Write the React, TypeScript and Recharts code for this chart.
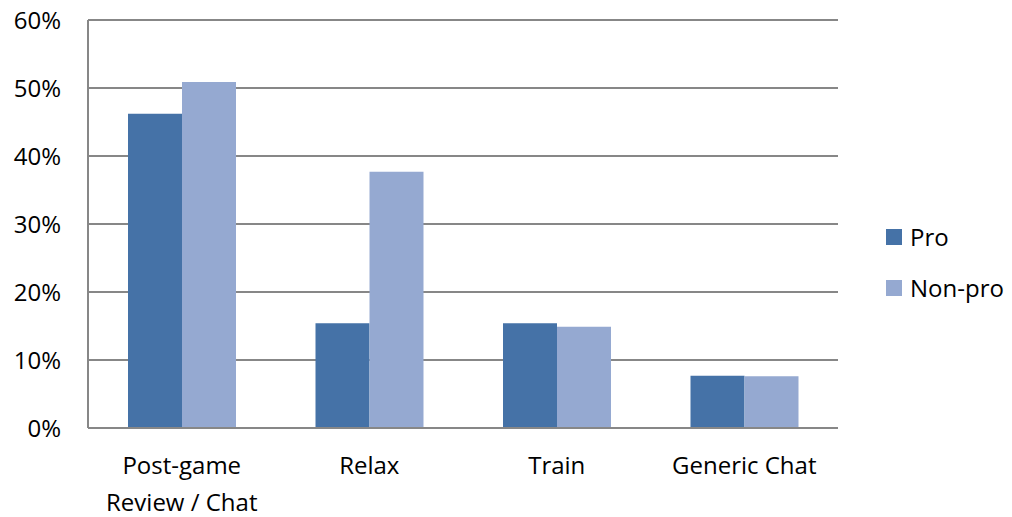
import { BarChart, Bar, XAxis, YAxis, CartesianGrid, Legend } from 'recharts';

const categories = ['Post-game\nReview / Chat', 'Relax', 'Train', 'Generic Chat'];
const proValues = [46.2, 15.4, 15.4, 7.7];
const nonProValues = [50.9, 37.7, 14.9, 7.6];
const yTicks = [0, 10, 20, 30, 40, 50, 60];
const seriesOrder = ['Pro', 'Non-pro'];

const FONT = "'Open Sans', 'Noto Sans', sans-serif";
const GRID = '#878787';
const PRO = '#4572A7';
const NON_PRO = '#95A9D1';

const data = categories.map((name, i) => ({
  name,
  pro: proValues[i],
  nonPro: nonProValues[i],
}));

// category labels can span two lines
const CategoryTick = ({ x, y, payload }: any) => {
  const lines = String(payload.value).split('\n');
  return (
    <text x={x} y={y + 38} textAnchor="middle" fill="#000" fontSize={24} fontFamily={FONT}>
      {lines.map((line, i) => (
        <tspan key={i} x={x} dy={i === 0 ? 0 : 36.5}>
          {line}
        </tspan>
      ))}
    </text>
  );
};

const LegendBox = ({ payload }: any) => {
  const items = [...(payload || [])].sort(
    (a: any, b: any) => seriesOrder.indexOf(a.value) - seriesOrder.indexOf(b.value)
  );
  return (
    <div style={{ fontFamily: FONT, fontSize: 24, color: '#000' }}>
      {items.map((item: any) => (
        <div key={item.value} style={{ display: 'flex', alignItems: 'center', height: 51 }}>
          <span style={{ width: 16, height: 16, background: item.color, marginRight: 8 }} />
          <span>{item.value}</span>
        </div>
      ))}
    </div>
  );
};

const App = () => {
  return (
    <div style={{ position: 'absolute', left: 0, top: 0, background: '#fff' }}>
      <BarChart
        width={1012}
        height={517}
        data={data}
        margin={{ top: 20, right: 174, left: 0, bottom: 0 }}
        barCategoryGap={40}
        barGap={0}
      >
        <CartesianGrid vertical={false} stroke={GRID} strokeWidth={2} />
        <XAxis
          dataKey="name"
          height={89}
          tickLine={false}
          axisLine={{ stroke: GRID, strokeWidth: 2 }}
          tick={<CategoryTick />}
          interval={0}
        />
        <YAxis
          width={88}
          domain={[0, 60]}
          ticks={yTicks}
          tickFormatter={(v: number) => `${v}%`}
          tickLine={false}
          tickMargin={21}
          axisLine={{ stroke: GRID, strokeWidth: 2 }}
          tick={{ fill: '#000', fontSize: 24, fontFamily: FONT }}
        />
        <Legend
          layout="vertical"
          align="center"
          verticalAlign="middle"
          content={<LegendBox />}
          wrapperStyle={{ left: 886, top: 211, width: 126 }}
        />
        <Bar dataKey="pro" name="Pro" fill={PRO} isAnimationActive={false} />
        <Bar dataKey="nonPro" name="Non-pro" fill={NON_PRO} isAnimationActive={false} />
      </BarChart>
    </div>
  );
};

export default App;
